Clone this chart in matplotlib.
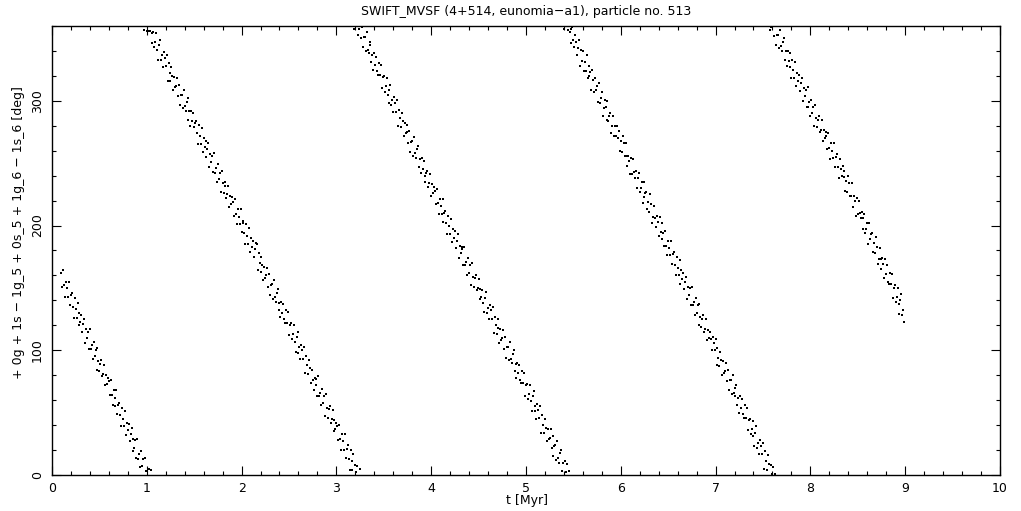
import numpy as np
import matplotlib
matplotlib.use("Agg")
import matplotlib.pyplot as plt
from matplotlib.ticker import MultipleLocator

# resonant angle, one sample every 10 kyr starting at t = 0.10 Myr
t_start = 0.10
t_step = 0.01

angle_1 = [162, 151, 164, 152, 143, 155, 150, 143, 155, 136,
           144, 146, 135, 126, 142, 133, 126, 138, 120, 130,
           123, 128, 115, 121, 125, 106, 117, 110, 115, 101,
           117, 101, 104, 93, 107, 95, 100, 84, 102, 91,
           83, 89, 92, 79, 81, 88, 72, 80, 73, 78,
           75, 64, 76, 64, 56, 68, 62, 55, 68, 49,
           56, 58, 48, 39, 54, 45, 39, 51, 32, 42,
           36, 41, 27, 33, 38, 19, 29, 22, 28, 14,
           29, 13, 17, 6, 19, 7, 13, 357, 14, 3,
           356]

angle_2 = [356, 5, 356, 4, 346, 354, 355, 343, 347, 354,
           341, 333, 345, 349, 333, 337, 327, 339, 334, 328,
           337, 316, 330, 322, 316, 327, 320, 309, 319, 311,
           312, 318, 304, 313, 297, 305, 305, 294, 309, 296,
           292, 299, 302, 285, 292, 280, 292, 284, 290, 279,
           282, 284, 274, 265, 281, 272, 265, 278, 259, 270,
           263, 268, 255, 261, 266, 247, 257, 251, 256, 243,
           258, 242, 246, 235, 249, 237, 242, 227, 244, 234,
           226, 232, 235, 222, 225, 232, 215, 224, 217, 223,
           219, 208, 221, 209, 201, 213, 207, 201, 213, 195,
           202, 204, 194, 185, 201, 192, 185, 198, 179, 190,
           183, 188, 175, 181, 186,
           185, 164, 178, 170, 163, 175, 168, 156, 167, 158,
           160, 166, 151, 161, 144, 152, 153, 141, 156, 143,
           139, 146, 149, 132, 138, 127, 139, 130, 137, 125,
           122, 132, 122, 131, 112, 120, 122, 109, 113, 120,
           107, 99, 111, 115, 98, 103, 93, 104, 100, 93,
           103, 82, 95, 88, 81, 92, 86, 74, 84, 76,
           68, 78, 72, 77, 63, 79, 63, 66, 56, 69,
           58, 63, 47, 65, 54, 46, 53, 55, 42, 45,
           52, 35, 44, 37, 42, 39, 28, 40, 29, 20,
           33, 27, 20, 33, 14, 21, 24, 13, 4, 20,
           11, 4, 17, 358, 8, 2, 7, 353]

angle_3 = [358, 5, 350, 359, 343, 351, 351, 340, 355, 341,
           338, 345, 347, 331, 337, 325, 338, 329, 335, 324,
           321, 330, 321, 329, 310, 319, 320, 307, 312, 318,
           305, 298, 309, 313, 297, 301, 291, 303, 298, 291,
           301, 280, 293, 286, 279, 290, 284, 272, 282, 274,
           275, 281, 266, 276, 259, 267, 268, 256, 271, 258,
           254, 261, 264, 247, 253, 242, 254, 245, 252, 240,
           235, 242, 244, 231, 234, 241, 224, 233, 226, 231,
           228, 217, 229, 218, 209, 221, 216, 209, 221, 203,
           210, 212, 202, 193, 208, 200, 193, 205, 187, 197,
           190, 196, 182, 188, 193, 174, 184, 178, 183,
           181, 168, 183, 168, 171, 160, 174, 162, 168, 152,
           170, 159, 151, 158, 160, 148, 150, 157, 141, 149,
           143, 148, 138, 131, 142, 147, 130, 134, 125, 136,
           132, 125, 135, 114, 127, 120, 113, 125, 118, 106,
           117, 108, 110, 116, 101, 111, 94, 103, 103, 92,
           107, 93, 90, 97, 100, 83, 89, 78, 90, 82,
           88, 76, 74, 83, 74, 82, 63, 72, 73, 61,
           65, 72, 59, 51, 63, 67, 51, 55, 45, 57,
           52, 46, 55, 34, 48, 40, 34, 45, 38, 27,
           37, 29, 30, 37, 22, 31, 15, 23, 24, 12,
           27, 14, 10, 18, 20, 3, 10, 358, 11, 2,
           9, 357]

angle_4 = [3, 355, 358, 346, 359, 349, 343, 353, 347, 337,
           342, 349, 328, 341, 332, 340, 324, 331, 324, 337,
           318, 328, 320, 323, 309, 325, 317, 307, 318, 309,
           312, 299, 314, 298, 302, 307, 288, 294, 301, 295,
           285, 300, 284, 288, 290, 274, 280, 288, 272, 280,
           272, 280, 270, 276, 260, 268, 259, 272, 266, 256,
           256, 266, 248, 256, 252, 241, 254, 241, 253, 243,
           238, 244, 230, 238, 242, 227, 230, 235, 218, 235,
           223, 226, 227, 213, 219, 211, 225, 217, 202, 207,
           216, 206, 199, 208, 203, 192, 207, 195, 202, 189,
           194, 184, 196, 184, 176, 188, 182, 176, 188,
           169, 177, 179, 168, 160, 175, 166, 160, 172, 153,
           164, 157, 162, 149, 155, 159, 141, 151, 144, 150,
           136, 151, 136, 139, 128, 142, 130, 136, 120, 137,
           127, 119, 125, 128, 115, 117, 125, 108, 116, 110,
           115, 109, 100, 111, 106, 100, 109, 88, 102, 94,
           87, 99, 92, 80, 91, 82, 83, 90, 75, 84,
           68, 76, 76, 65, 80, 66, 63, 70, 72, 56,
           62, 50, 63, 54, 61, 49, 46, 56, 46, 54,
           36, 44, 45, 33, 37, 43, 31, 23, 34, 39,
           22, 26, 17, 28, 23, 17, 26, 5, 19, 11,
           4, 16, 9, 357, 8, 359, 1]

angle_5 = [6, 352, 1, 345, 353, 353, 342, 357, 344, 340,
           347, 350, 333, 340, 328, 340, 332, 338, 327, 318,
           333, 325, 318, 331, 312, 322, 316, 321, 308, 314,
           318, 300, 310, 304, 309, 295, 311, 295, 299, 288,
           301, 290, 295, 280, 297, 286, 279, 285, 288, 275,
           277, 285, 268, 277, 270, 275, 272, 261, 274, 262,
           253, 266, 260, 254, 266, 247, 255, 257, 247, 238,
           253, 245,
           240, 248, 239, 244, 228, 236, 227, 240, 234, 224,
           224, 234, 215, 224, 220, 208, 222, 209, 220, 210,
           206, 211, 197, 206, 209, 194, 197, 202, 185, 202,
           189, 193, 194, 179, 186, 178, 191, 183, 169, 173,
           182, 173, 165, 174, 169, 158, 173, 161, 168, 155,
           153, 162, 153, 161, 142, 150, 152, 139, 143, 150,
           137, 129, 140, 145, 128, 132, 123]

x_ticks = [0, 1, 2, 3, 4, 5, 6, 7, 8, 9, 10]
y_ticks = [0, 100, 200, 300]

angle = np.array(angle_1 + angle_2 + angle_3 + angle_4 + angle_5, dtype=float)
t = t_start + t_step * np.arange(len(angle))

fig = plt.figure(figsize=(10.21, 5.11), dpi=100)
ax = fig.add_axes([0.0509, 0.0705, 0.9285, 0.8786])

ax.plot(t, angle, linestyle="none", marker="s", markersize=1.5,
        markeredgewidth=0, color="black", antialiased=False)

ax.set_xlim(0, 10)
ax.set_ylim(0, 360)
ax.set_xticks(x_ticks)
ax.set_yticks(y_ticks)
ax.xaxis.set_minor_locator(MultipleLocator(0.2))
ax.yaxis.set_minor_locator(MultipleLocator(20))

ax.tick_params(which="both", direction="in", top=True, right=True,
               width=0.8, colors="black", labelsize=9)
ax.tick_params(which="major", length=6.5)
ax.tick_params(which="minor", length=3)
ax.tick_params(axis="x", pad=5)
ax.tick_params(axis="y", pad=6, labelrotation=90)
for lab in ax.get_yticklabels():
    lab.set_verticalalignment("center")

for sp in ax.spines.values():
    sp.set_linewidth(1.0)

ax.set_title("SWIFT_MVSF (4+514, eunomia\u2212a1), particle no. 513",
             fontsize=9, pad=8)
ax.set_xlabel("t [Myr]", fontsize=9)
ax.xaxis.set_label_coords(0.501, -0.042)
ax.set_ylabel("+ 0g + 1s \u2212 1g_5 + 0s_5 + 1g_6 \u2212 1s_6 [deg]", fontsize=9)
ax.yaxis.set_label_coords(-0.028, 0.54)

fig.savefig("out.png", dpi=100)
